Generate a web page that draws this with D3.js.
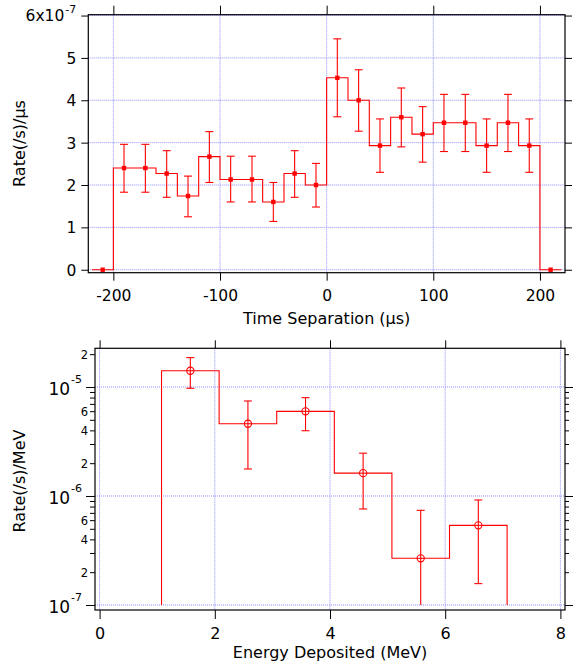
<!DOCTYPE html>
<html><head><meta charset="utf-8">
<script src="https://cdn.jsdelivr.net/npm/d3@7"></script>
<style>body{margin:0;background:#fff}svg{display:block}text{font-family:"DejaVu Sans",sans-serif}</style>
</head><body><svg id="c" width="573" height="666"></svg>
<script>
// ---------- top panel data (rate in units of 1e-7 /s/µs) ----------
const timeCenters = [-210,-190,-170,-150,-130,-110,-90,-70,-50,-30,-10,10,30,50,70,90,110,130,150,170,190,210];
const timeBinWidth = 20;
const timeRate  = [0,2.40,2.40,2.27,1.74,2.67,2.13,2.13,1.60,2.27,2.00,4.53,4.00,2.93,3.60,3.20,3.47,3.47,2.93,3.47,2.93,0];
const timeErrHi = [null,2.96,2.96,2.81,2.21,3.26,2.68,2.68,2.06,2.81,2.51,5.45,4.72,3.56,4.29,3.85,4.14,4.14,3.56,4.14,3.56,null];
const timeErrLo = [null,1.83,1.83,1.71,1.25,2.06,1.60,1.60,1.14,1.71,1.48,3.61,3.27,2.30,2.90,2.54,2.79,2.79,2.30,2.79,2.30,null];
const timeXTicks = [-200,-100,0,100,200];
const timeYTicks = [0,1,2,3,4,5,6];

// ---------- bottom panel data (rate /s/MeV) ----------
const energyCenters = [1.575,2.575,3.575,4.575,5.575,6.575];
const energyBinWidth = 1.0;
const energyRate  = [1.41e-5,4.60e-6,5.98e-6,1.62e-6,2.68e-7,5.38e-7];
const energyErrHi = [1.86e-5,7.44e-6,7.98e-6,2.47e-6,7.39e-7,9.19e-7];
const energyErrLo = [9.73e-6,1.77e-6,3.97e-6,7.60e-7,1.00e-7,1.57e-7];
const energyFloor = 1e-7;
const energyXTicks = [0,2,4,6,8];
const energyMajorTicks = [1e-7,1e-6,1e-5];
const energyMajorExp = ["-7","-6","-5"];
const energyMinorTicks = [2e-7,3e-7,4e-7,5e-7,6e-7,7e-7,8e-7,9e-7,2e-6,3e-6,4e-6,5e-6,6e-6,7e-6,8e-6,9e-6,2e-5];
const energyMinorLabelled = [2e-7,4e-7,6e-7,2e-6,4e-6,6e-6,2e-5];

const svg = d3.select("#c");
const RED = "#ff0000", GRID = "#8f8fff";

function panel(x, y, opts) {
  const g = svg.append("g");
  const [x0,x1] = x.range(), [y0,y1] = y.range(); // y0 bottom, y1 top
  // grid
  g.append("g").selectAll("line").data(opts.xGrid).join("line")
    .attr("x1", d=>x(d)).attr("x2", d=>x(d)).attr("y1", y1).attr("y2", y0)
    .attr("stroke", GRID).attr("stroke-dasharray","1,1");
  g.append("g").selectAll("line").data(opts.yGrid).join("line")
    .attr("y1", d=>y(d)).attr("y2", d=>y(d)).attr("x1", x0).attr("x2", x1)
    .attr("stroke", GRID).attr("stroke-dasharray","1,1");
  return g;
}

function styleAxis(sel, fs) {
  sel.select(".domain").remove();
  sel.selectAll("line").attr("stroke", "#000");
  sel.selectAll("text").attr("font-size", fs).attr("fill", "#000").attr("font-family", '"DejaVu Sans",sans-serif');
}

// ================= TOP PANEL =================
{
  const x = d3.scaleLinear([-223.5,223.5],[88.3,565]);
  const y = d3.scaleLinear([-0.07,6.02],[272.7,14.7]);
  const g = panel(x, y, {xGrid: timeXTicks, yGrid: timeYTicks});

  // step line
  const pts = timeCenters.map((c,i)=>[c - timeBinWidth/2, timeRate[i]]);
  pts.push([timeCenters[timeCenters.length-1] + timeBinWidth/2, timeRate[timeRate.length-1]]);
  g.append("path").attr("d", d3.line().x(d=>x(d[0])).y(d=>y(d[1])).curve(d3.curveStepAfter)(pts))
    .attr("fill","none").attr("stroke",RED).attr("stroke-width",1.1);

  // error bars
  const eb = timeCenters.map((c,i)=>({c, hi: timeErrHi[i], lo: timeErrLo[i]})).filter(d=>d.hi!==null);
  const ge = g.append("g").attr("stroke",RED).attr("stroke-width",1.1);
  ge.selectAll(".v").data(eb).join("line").attr("x1",d=>x(d.c)).attr("x2",d=>x(d.c)).attr("y1",d=>y(d.hi)).attr("y2",d=>y(d.lo));
  ge.selectAll(".h").data(eb).join("line").attr("x1",d=>x(d.c)-4).attr("x2",d=>x(d.c)+4).attr("y1",d=>y(d.hi)).attr("y2",d=>y(d.hi));
  ge.selectAll(".l").data(eb).join("line").attr("x1",d=>x(d.c)-4).attr("x2",d=>x(d.c)+4).attr("y1",d=>y(d.lo)).attr("y2",d=>y(d.lo));
  // markers
  g.append("g").selectAll("rect").data(timeCenters).join("rect")
    .attr("x",(d)=>x(d)-2.2).attr("y",(d,i)=>y(timeRate[i])-2.2).attr("width",4.4).attr("height",4.4).attr("fill",RED);

  // frame
  svg.append("rect").attr("x",88.3).attr("y",14.7).attr("width",565-88.3).attr("height",272.7-14.7)
    .attr("fill","none").attr("stroke","#000").attr("stroke-width",1.2);

  // axes
  const ax = svg.append("g").attr("transform","translate(0,272.7)")
    .call(d3.axisBottom(x).tickValues(timeXTicks).tickSize(8).tickPadding(9).tickFormat(d=>String(d)));
  styleAxis(ax, 15.5);
  const axT = svg.append("g").attr("transform","translate(0,14.7)")
    .call(d3.axisTop(x).tickValues(timeXTicks).tickSize(9).tickFormat(""));
  styleAxis(axT, 15);
  const ay = svg.append("g").attr("transform","translate(88.3,0)")
    .call(d3.axisLeft(y).tickValues(timeYTicks).tickSize(7).tickPadding(5).tickFormat(d=>d===6?"":String(d)));
  styleAxis(ay, 15.5);
  ay.selectAll("text").attr("dy","0.36em");
  const top6 = ay.append("text").attr("x",-12).attr("y",y(6)).attr("dy","0.36em").attr("text-anchor","end")
    .attr("font-size",15.5).attr("fill","#000");
  top6.append("tspan").text("6x10");
  top6.append("tspan").attr("dy","-0.75em").attr("dx","1").attr("font-size",11).text("-7");
  const ayR = svg.append("g").attr("transform","translate(565,0)")
    .call(d3.axisRight(y).tickValues(timeYTicks).tickSize(7).tickFormat(""));
  styleAxis(ayR, 15);

  svg.append("text").attr("x",326.7).attr("y",323.5).attr("text-anchor","middle").attr("font-size",16).text("Time Separation (µs)");
  svg.append("text").attr("transform","translate(19,143.5) rotate(-90)").attr("dy","0.36em").attr("text-anchor","middle").attr("font-size",16).text("Rate(/s)/µs");
}

// ================= BOTTOM PANEL =================
{
  const x = d3.scaleLinear([-0.08,8.08],[95,565]);
  const y = d3.scaleLog([Math.pow(10,-7.046), Math.pow(10,-4.645)],[610,348.3]);
  const g = panel(x, y, {xGrid: energyXTicks, yGrid: energyMajorTicks});

  const pts = [[energyCenters[0]-energyBinWidth/2, energyFloor]];
  energyCenters.forEach((c,i)=>pts.push([c-energyBinWidth/2, energyRate[i]]));
  const last = energyCenters.length-1;
  pts.push([energyCenters[last]+energyBinWidth/2, energyRate[last]]);
  pts.push([energyCenters[last]+energyBinWidth/2, energyFloor]);
  g.append("path").attr("d", d3.line().x(d=>x(d[0])).y(d=>y(d[1])).curve(d3.curveStepAfter)(pts))
    .attr("fill","none").attr("stroke",RED).attr("stroke-width",1.1);

  const eb = energyCenters.map((c,i)=>({c, v: energyRate[i], hi: energyErrHi[i], lo: energyErrLo[i]}));
  const ge = g.append("g").attr("stroke",RED).attr("stroke-width",1.1).attr("fill","none");
  ge.selectAll(".v").data(eb).join("line").attr("x1",d=>x(d.c)).attr("x2",d=>x(d.c)).attr("y1",d=>y(d.hi)).attr("y2",d=>y(d.lo));
  ge.selectAll(".h").data(eb).join("line").attr("x1",d=>x(d.c)-4).attr("x2",d=>x(d.c)+4).attr("y1",d=>y(d.hi)).attr("y2",d=>y(d.hi));
  ge.selectAll(".l").data(eb.filter(d=>d.lo>energyFloor)).join("line").attr("x1",d=>x(d.c)-4).attr("x2",d=>x(d.c)+4).attr("y1",d=>y(d.lo)).attr("y2",d=>y(d.lo));
  ge.selectAll("circle").data(eb).join("circle").attr("cx",d=>x(d.c)).attr("cy",d=>y(d.v)).attr("r",3.6).attr("fill","#fff");
  ge.selectAll(".hx").data(eb).join("line").attr("x1",d=>x(d.c)-3.6).attr("x2",d=>x(d.c)+3.6).attr("y1",d=>y(d.v)).attr("y2",d=>y(d.v));
  ge.selectAll(".vx").data(eb).join("line").attr("x1",d=>x(d.c)).attr("x2",d=>x(d.c)).attr("y1",d=>y(d.v)-3.6).attr("y2",d=>y(d.v)+3.6);

  svg.append("rect").attr("x",95).attr("y",348.3).attr("width",565-95).attr("height",610-348.3)
    .attr("fill","none").attr("stroke","#000").attr("stroke-width",1.2);

  const ax = svg.append("g").attr("transform","translate(0,610)")
    .call(d3.axisBottom(x).tickValues(energyXTicks).tickSize(9).tickPadding(9).tickFormat(d=>String(d)));
  styleAxis(ax, 16);
  const axT = svg.append("g").attr("transform","translate(0,348.3)")
    .call(d3.axisTop(x).tickValues(energyXTicks).tickSize(8).tickFormat(""));
  styleAxis(axT, 16);

  // left major
  const ayM = svg.append("g").attr("transform","translate(95,0)")
    .call(d3.axisLeft(y).tickValues(energyMajorTicks).tickSize(9).tickFormat(""));
  styleAxis(ayM, 16);
  ayM.selectAll(".tick").each(function(d,i){
    const t = d3.select(this).append("text").attr("x",-13).attr("y",8).attr("text-anchor","end").attr("font-size",17).attr("fill","#000");
    t.append("tspan").text("10");
    t.append("tspan").attr("dy",-12).attr("dx",1).attr("font-size",11).text(energyMajorExp[i]);
  });
  const aym = svg.append("g").attr("transform","translate(95,0)")
    .call(d3.axisLeft(y).tickValues(energyMinorTicks).tickSize(5).tickPadding(2)
      .tickFormat(d=>energyMinorLabelled.some(v=>Math.abs(v-d)/v<1e-6) ? String(Math.round(d/Math.pow(10,Math.floor(Math.log10(d)+1e-9)))) : ""));
  styleAxis(aym, 11.5);
  aym.selectAll("text").attr("dy","0.36em");
  const ayRM = svg.append("g").attr("transform","translate(565,0)")
    .call(d3.axisRight(y).tickValues(energyMajorTicks).tickSize(8).tickFormat(""));
  styleAxis(ayRM, 11);
  const ayRm = svg.append("g").attr("transform","translate(565,0)")
    .call(d3.axisRight(y).tickValues(energyMinorTicks).tickSize(4).tickFormat(""));
  styleAxis(ayRm, 11);

  svg.append("text").attr("x",330).attr("y",658.3).attr("text-anchor","middle").attr("font-size",16).text("Energy Deposited (MeV)");
  svg.append("text").attr("transform","translate(19,481) rotate(-90)").attr("dy","0.36em").attr("text-anchor","middle").attr("font-size",16).text("Rate(/s)/MeV");
}
</script></body></html>
